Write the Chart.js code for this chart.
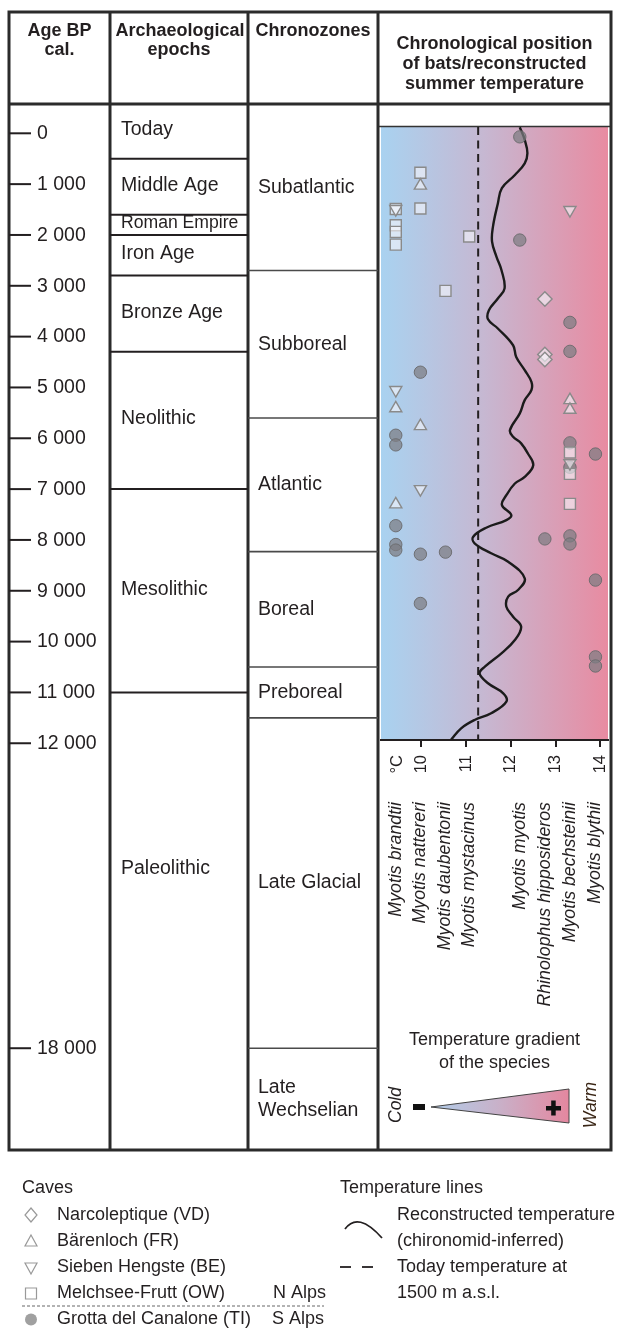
<!DOCTYPE html>
<html>
<head>
<meta charset="utf-8">
<script src="https://cdn.jsdelivr.net/npm/chart.js@4.4.1/dist/chart.umd.min.js"></script>
<style>html,body{margin:0;padding:0;background:#fff}canvas{display:block}</style>
</head>
<body>
<canvas id="c" width="618" height="1332"></canvas>
<script>
// ---------------- DATA ----------------
const speciesNames = ['Myotis brandtii','Myotis nattereri','Myotis daubentonii','Myotis mystacinus','Myotis myotis','Rhinolophus hipposideros','Myotis bechsteinii','Myotis blythii'];
const speciesTemp = [9.43, 9.98, 10.54, 11.07, 12.20, 12.76, 13.32, 13.89];
const tempTicks = [10, 11, 12, 13, 14];
const tempMin = 9.1, tempMax = 14.17;
const plotAgeMin = -124, plotAgeMax = 11936;

const ageTicks = [0,1000,2000,3000,4000,5000,6000,7000,8000,9000,10000,11000,12000,18000];
const ageTickLabels = ['0','1 000','2 000','3 000','4 000','5 000','6 000','7 000','8 000','9 000','10 000','11 000','12 000','18 000'];

const epochNames = ['Today','Middle Age','Roman Empire','Iron Age','Bronze Age','Neolithic','Mesolithic','Paleolithic'];
const epochBounds = [500, 1600, 2000, 2800, 4300, 7000, 11000];
const zoneNames = ['Subatlantic','Subboreal','Atlantic','Boreal','Preboreal','Late Glacial',['Late','Wechselian']];
const zoneBounds = [2700, 5600, 8230, 10500, 11500, 18000];

// reconstructed (chironomid-inferred) summer temperature
const curveAge  = [-120,130,390,590,820,1080,1380,1840,2130,2430,2690,3050,3250,3480,3660,3840,4170,4400,4660,4890,5050,5250,5510,5840,5970,6100,6300,6530,6760,6890,7120,7310,7510,7610,7760,7936,8066,8263,8428,8755,8985,9116,9313,9510,9707,9969,10230,10493,10624,10820,11017,11182,11410,11542,11706,11936];
const curveTemp = [12.20,12.31,12.37,12.31,12.09,11.80,11.71,11.60,11.58,11.68,11.79,11.86,11.71,11.51,11.49,11.71,12.05,12.12,12.31,12.46,12.46,12.31,12.20,11.98,12.05,12.23,12.38,12.50,12.31,12.09,11.90,11.80,12.01,11.90,11.45,11.16,11.19,11.56,11.94,12.31,12.16,11.94,11.90,12.05,12.23,12.09,11.79,11.42,11.30,11.49,11.83,11.90,11.56,11.19,10.89,10.66];
const todayTemp = 11.27;

// finds per cave: species index and age (years cal. BP)
const narcoSpecies = [5,5,5];
const narcoAge     = [3260,4350,4450];
const baerenSpecies = [1,6,6,0,1,0];
const baerenAge     = [1030,5250,5440,5410,5760,7300];
const siebenSpecies = [0,6,0,6,1];
const siebenAge     = [1490,1510,5050,6490,7000];
const melchSpecies = [1,1,0,0,0,0,3,2,6,6,6];
const melchAge     = [775,1480,1490,1810,1940,2190,2030,3100,6280,6700,7290];
const canaloneSpecies = [4,4,6,6,1,0,0,6,7,6,0,6,5,6,0,0,2,1,7,1,7,7];
const canaloneAge     = [70,2100,3720,4290,4700,5940,6130,6090,6310,6570,7720,7920,7980,8080,8090,8200,8240,8280,8790,9250,10300,10480];

// ---------------- STYLE / LAYOUT ----------------
const FAM = "'Liberation Sans', Arial, Helvetica, sans-serif";
const INK = '#231f20';
const TL = 9, TR = 611, TT = 12, TB = 1150, HB = 104;
const COLS = [110, 248, 378];

const pts = (sp, ages) => sp.map((s, i) => ({x: speciesTemp[s], y: ages[i]}));
const openFill = 'rgba(246,246,250,0.62)';
const openBorder = '#8a8a8a';

function line(ctx, x1, y1, x2, y2, w, c) {
  ctx.beginPath(); ctx.moveTo(x1, y1); ctx.lineTo(x2, y2);
  ctx.lineWidth = w; ctx.strokeStyle = c; ctx.stroke();
}
function txt(ctx, s, x, y, font, align) {
  ctx.font = font; ctx.fillStyle = INK; ctx.textAlign = align || 'left'; ctx.textBaseline = 'middle';
  ctx.fillText(s, x, y);
}
function rtxt(ctx, s, x, y, font, align, color) {
  ctx.save(); ctx.translate(x, y); ctx.rotate(-Math.PI / 2);
  ctx.font = font; ctx.fillStyle = color || INK; ctx.textAlign = align || 'center'; ctx.textBaseline = 'middle';
  ctx.fillText(s, 0, 0); ctx.restore();
}

const framePlugin = {
  id: 'frame',
  beforeDraw(chart) {
    const ctx = chart.ctx, a = chart.chartArea, ys = chart.scales.y;
    ctx.save();
    ctx.fillStyle = '#fff'; ctx.fillRect(0, 0, chart.width, chart.height);
    // plot background gradient
    const g = ctx.createLinearGradient(a.left, 0, a.right, 0);
    g.addColorStop(0, '#a9d2f0');
    g.addColorStop(0.45, '#c6b8d2');
    g.addColorStop(1, '#e88ba1');
    ctx.fillStyle = g; ctx.fillRect(a.left, a.top, a.right - a.left, a.bottom - a.top);
    line(ctx, COLS[2], a.top - 0.5, TR, a.top - 0.5, 1.5, '#333');

    // table frame
    ctx.lineWidth = 3; ctx.strokeStyle = '#2b2b2b';
    ctx.strokeRect(TL, TT, TR - TL, TB - TT);
    line(ctx, TL, HB, TR, HB, 3, '#2b2b2b');
    COLS.forEach(c => line(ctx, c, TT, c, TB, 3, '#2b2b2b'));

    // headers
    const hf = `bold 18px ${FAM}`;
    txt(ctx, 'Age BP', (TL + COLS[0]) / 2, 31, hf, 'center');
    txt(ctx, 'cal.', (TL + COLS[0]) / 2, 50, hf, 'center');
    txt(ctx, 'Archaeological', (COLS[0] + COLS[1]) / 2 + 1, 31, hf, 'center');
    txt(ctx, 'epochs', (COLS[0] + COLS[1]) / 2, 50, hf, 'center');
    txt(ctx, 'Chronozones', (COLS[1] + COLS[2]) / 2, 31, hf, 'center');
    txt(ctx, 'Chronological position', (COLS[2] + TR) / 2, 44.5, hf, 'center');
    txt(ctx, 'of bats/reconstructed', (COLS[2] + TR) / 2, 64.5, hf, 'center');
    txt(ctx, 'summer temperature', (COLS[2] + TR) / 2, 84.5, hf, 'center');

    const bf = `19.5px ${FAM}`;
    // age ticks
    ageTicks.forEach((t, i) => {
      const y = ys.getPixelForValue(t);
      line(ctx, TL, y, 31, y, 2, INK);
      txt(ctx, ageTickLabels[i], 37, y + 0.5, bf);
    });
    // epochs
    epochBounds.forEach(b => {
      const y = ys.getPixelForValue(b);
      line(ctx, COLS[0], y, COLS[1], y, 2, INK);
    });
    epochNames.forEach((n, i) => {
      const top = i === 0 ? HB : ys.getPixelForValue(epochBounds[i - 1]);
      const bot = i < epochBounds.length ? ys.getPixelForValue(epochBounds[i]) : ys.getPixelForValue(ageTicks[ageTicks.length - 1]);
      const f = n === 'Roman Empire' ? `17.6px ${FAM}` : bf;
      txt(ctx, n, 121, (top + bot) / 2 - 1.5, f);
    });
    // chronozones
    zoneBounds.forEach(b => {
      const y = ys.getPixelForValue(b);
      line(ctx, COLS[1], y, COLS[2], y, 1.6, '#4a4a4a');
    });
    zoneNames.forEach((n, i) => {
      const top = i === 0 ? HB : ys.getPixelForValue(zoneBounds[i - 1]);
      const bot = i < zoneBounds.length ? ys.getPixelForValue(zoneBounds[i]) : TB;
      const mid = (top + bot) / 2;
      if (Array.isArray(n)) {
        txt(ctx, n[0], 258, mid - 11.5, bf);
        txt(ctx, n[1], 258, mid + 11.5, bf);
      } else {
        txt(ctx, n, 258, mid, bf);
      }
    });
    ctx.restore();
  },
  afterDraw(chart) {
    const ctx = chart.ctx, xs = chart.scales.x;
    ctx.save();
    rtxt(ctx, '°C', xs.getPixelForValue(tempMin) + 16, 755, `16.5px ${FAM}`, 'right');

    // temperature gradient of the species
    const cx = (COLS[2] + TR) / 2;
    txt(ctx, 'Temperature gradient', cx, 1040, `18px ${FAM}`, 'center');
    txt(ctx, 'of the species', cx, 1063, `18px ${FAM}`, 'center');
    const g = ctx.createLinearGradient(431, 0, 569, 0);
    g.addColorStop(0, '#b0cdea'); g.addColorStop(0.5, '#c9b0c8'); g.addColorStop(1, '#e4879f');
    ctx.beginPath(); ctx.moveTo(431, 1107); ctx.lineTo(569, 1089); ctx.lineTo(569, 1123); ctx.closePath();
    ctx.fillStyle = g; ctx.fill(); ctx.lineWidth = 1; ctx.strokeStyle = '#444'; ctx.stroke();
    ctx.fillStyle = '#111';
    ctx.fillRect(413, 1104, 12, 6);
    ctx.fillRect(546, 1106, 15, 4.5); ctx.fillRect(551.2, 1100.5, 4.5, 15);
    rtxt(ctx, 'Cold', 396, 1105, `italic 17.5px ${FAM}`, 'center');
    rtxt(ctx, 'Warm', 591, 1105, `italic 17.5px ${FAM}`, 'center', '#3a2616');

    // legend: caves
    const lf = `18px ${FAM}`;
    const ly = [1215, 1241, 1267, 1293, 1319];
    txt(ctx, 'Caves', 22, 1188, lf);
    const caveNames = ['Narcoleptique (VD)', 'Bärenloch (FR)', 'Sieben Hengste (BE)', 'Melchsee-Frutt (OW)', 'Grotta del Canalone (TI)'];
    caveNames.forEach((n, i) => txt(ctx, n, 57, ly[i], lf));
    txt(ctx, 'N Alps', 273, ly[3], lf);
    txt(ctx, 'S Alps', 272, ly[4], lf);
    ctx.setLineDash([3, 2]); line(ctx, 22, 1306, 324, 1306, 1, '#666'); ctx.setLineDash([]);
    const sx = 31;
    ctx.lineWidth = 1.2; ctx.strokeStyle = '#999'; ctx.fillStyle = '#fff';
    // diamond
    ctx.beginPath(); ctx.moveTo(sx, ly[0] - 7); ctx.lineTo(sx + 6, ly[0]); ctx.lineTo(sx, ly[0] + 7); ctx.lineTo(sx - 6, ly[0]); ctx.closePath(); ctx.fill(); ctx.stroke();
    // triangle up
    ctx.beginPath(); ctx.moveTo(sx, ly[1] - 6); ctx.lineTo(sx + 6, ly[1] + 5); ctx.lineTo(sx - 6, ly[1] + 5); ctx.closePath(); ctx.fill(); ctx.stroke();
    // triangle down
    ctx.beginPath(); ctx.moveTo(sx - 6, ly[2] - 4); ctx.lineTo(sx + 6, ly[2] - 4); ctx.lineTo(sx, ly[2] + 7); ctx.closePath(); ctx.fill(); ctx.stroke();
    // square
    ctx.beginPath(); ctx.rect(sx - 5.5, ly[3] - 5, 11, 11); ctx.fill(); ctx.stroke();
    // circle
    ctx.beginPath(); ctx.arc(sx, ly[4] + 0.5, 6, 0, Math.PI * 2); ctx.fillStyle = '#a0a0a0'; ctx.fill();

    // legend: temperature lines
    txt(ctx, 'Temperature lines', 340, 1188, lf);
    ctx.beginPath(); ctx.moveTo(345, 1229); ctx.quadraticCurveTo(358, 1211, 382, 1238);
    ctx.lineWidth = 1.8; ctx.strokeStyle = INK; ctx.stroke();
    txt(ctx, 'Reconstructed temperature', 397, 1215, lf);
    txt(ctx, '(chironomid-inferred)', 397, 1241, lf);
    line(ctx, 340, 1267, 351, 1267, 1.8, INK);
    line(ctx, 362, 1267, 373, 1267, 1.8, INK);
    txt(ctx, 'Today temperature at', 397, 1267, lf);
    txt(ctx, '1500 m a.s.l.', 397, 1293, lf);
    ctx.restore();
  }
};

const markerBase = {showLine: false, borderWidth: 1.4, backgroundColor: openFill, borderColor: openBorder};

new Chart(document.getElementById('c'), {
  type: 'scatter',
  data: {
    datasets: [
      Object.assign({}, markerBase, {label: 'Narcoleptique (VD)', data: pts(narcoSpecies, narcoAge), pointStyle: 'rectRot', pointRadius: 7.2, order: 1}),
      Object.assign({}, markerBase, {label: 'Bärenloch (FR)', data: pts(baerenSpecies, baerenAge), pointStyle: 'triangle', pointRadius: 7, order: 2}),
      Object.assign({}, markerBase, {label: 'Sieben Hengste (BE)', data: pts(siebenSpecies, siebenAge), pointStyle: 'triangle', rotation: 180, pointRadius: 7, order: 3}),
      Object.assign({}, markerBase, {label: 'Melchsee-Frutt (OW)', data: pts(melchSpecies, melchAge), pointStyle: 'rect', pointRadius: 7.8, order: 4}),
      {label: 'Grotta del Canalone (TI)', data: pts(canaloneSpecies, canaloneAge), pointStyle: 'circle', pointRadius: 6.2,
       backgroundColor: 'rgba(125,125,130,0.72)', borderColor: 'rgba(105,105,108,0.9)', borderWidth: 1, showLine: false, order: 5},
      {label: 'Reconstructed temperature', data: curveTemp.map((t, i) => ({x: t, y: curveAge[i]})), showLine: true,
       tension: 0.4, borderColor: '#1b1b1b', borderWidth: 2.4, pointRadius: 0, fill: false, order: 6},
      {label: 'Today temperature', data: [{x: todayTemp, y: plotAgeMin}, {x: todayTemp, y: plotAgeMax}], showLine: true,
       borderColor: INK, borderWidth: 2, borderDash: [8, 5.5], pointRadius: 0, fill: false, order: 7}
    ]
  },
  options: {
    responsive: false,
    devicePixelRatio: 1,
    animation: false,
    events: [],
    layout: {padding: {left: 381, right: 10, top: 127, bottom: 292}},
    plugins: {legend: {display: false}, tooltip: {enabled: false}},
    scales: {
      x: {
        type: 'linear', position: 'bottom', weight: 0, min: tempMin, max: tempMax,
        afterBuildTicks: s => { s.ticks = tempTicks.map(v => ({value: v})); },
        afterFit: s => { s.height = 54; s.paddingLeft = 0; s.paddingRight = 0; },
        grid: {drawOnChartArea: false, drawTicks: true, tickLength: 7, color: INK, lineWidth: 2},
        border: {display: true, color: INK, width: 2},
        ticks: {minRotation: 90, maxRotation: 90, autoSkip: false, padding: 8, color: INK,
                font: {family: FAM, size: 16.5}, callback: v => String(v)}
      },
      x2: {
        type: 'linear', position: 'bottom', weight: 1, min: tempMin, max: tempMax,
        afterBuildTicks: s => { s.ticks = speciesTemp.map(v => ({value: v})); },
        afterFit: s => { s.height = 246; s.paddingLeft = 0; s.paddingRight = 0; },
        grid: {display: false}, border: {display: false},
        ticks: {minRotation: 90, maxRotation: 90, autoSkip: false, padding: 0, color: INK,
                font: {family: FAM, size: 17.8, style: 'italic'}, callback: (v, i) => speciesNames[i]}
      },
      y: {type: 'linear', display: false, reverse: true, min: plotAgeMin, max: plotAgeMax}
    }
  },
  plugins: [framePlugin]
});
</script>
</body>
</html>
